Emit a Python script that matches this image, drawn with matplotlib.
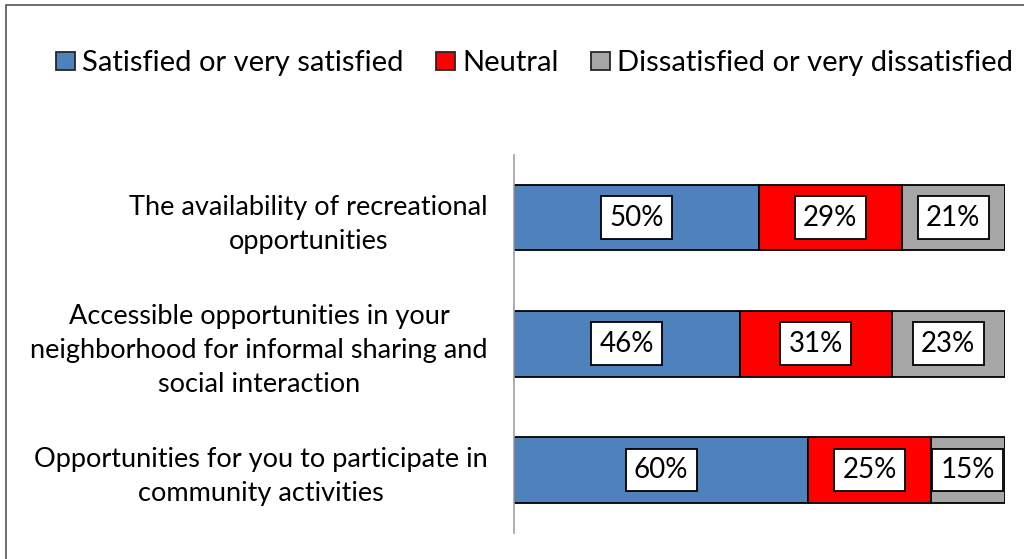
import matplotlib.pyplot as plt
from matplotlib.patches import Rectangle

plt.rcParams['font.family'] = ['Lato', 'DejaVu Sans']

categories = ['The availability of recreational\nopportunities',
              'Accessible opportunities in your\nneighborhood for informal sharing and\nsocial interaction',
              'Opportunities for you to participate in\ncommunity activities']
satisfied = [50, 46, 60]
neutral = [29, 31, 25]
dissatisfied = [21, 23, 15]

series = [('Satisfied or very satisfied', satisfied, '#4f81bd'),
          ('Neutral', neutral, '#ff0000'),
          ('Dissatisfied or very dissatisfied', dissatisfied, '#a6a6a6')]

fig = plt.figure(figsize=(10.24, 5.59), dpi=100)
ax = fig.add_axes([0.502, 0.0465, 0.479, 0.677])

ypos = list(range(len(categories)))
left = [0] * len(categories)
for name, vals, col in series:
    bars = ax.barh(ypos, vals, left=left, height=0.52, color=col,
                   edgecolor='black', linewidth=1.3, label=name)
    for b, v in zip(bars, vals):
        ax.text(b.get_x() + b.get_width() / 2, b.get_y() + b.get_height() / 2,
                f'{v}%', ha='center', va='center', fontsize=20,
                bbox=dict(boxstyle='square,pad=0.3', fc='white', ec='black', lw=1.3))
    left = [l + v for l, v in zip(left, vals)]

ax.set_xlim(0, 100)
ax.set_ylim(2.5, -0.5)
ax.set_yticks(ypos)
ax.set_yticklabels(categories, fontsize=19.5, multialignment='center', linespacing=1.45)
ax.tick_params(axis='y', length=0, pad=19)
ax.set_xticks([])
for s in ['top', 'right', 'bottom']:
    ax.spines[s].set_visible(False)
ax.spines['left'].set_color('#a0a0a0')
ax.spines['left'].set_linewidth(1.2)

leg = fig.legend(loc='center', bbox_to_anchor=(0.522, 0.887), ncol=3, frameon=False,
                 fontsize=21, handlelength=0.65, handleheight=0.6, handletextpad=0.25,
                 columnspacing=1.1)
for h in leg.legend_handles:
    h.set_edgecolor('#262626')
    h.set_linewidth(1.3)

# chart area border
fig.patches.append(Rectangle((6 / 1024, -0.1), 1.2, 1 - 5 / 559 + 0.1, transform=fig.transFigure,
                             fill=False, edgecolor='#555555', linewidth=1.2))

fig.savefig('out.png', dpi=100)
